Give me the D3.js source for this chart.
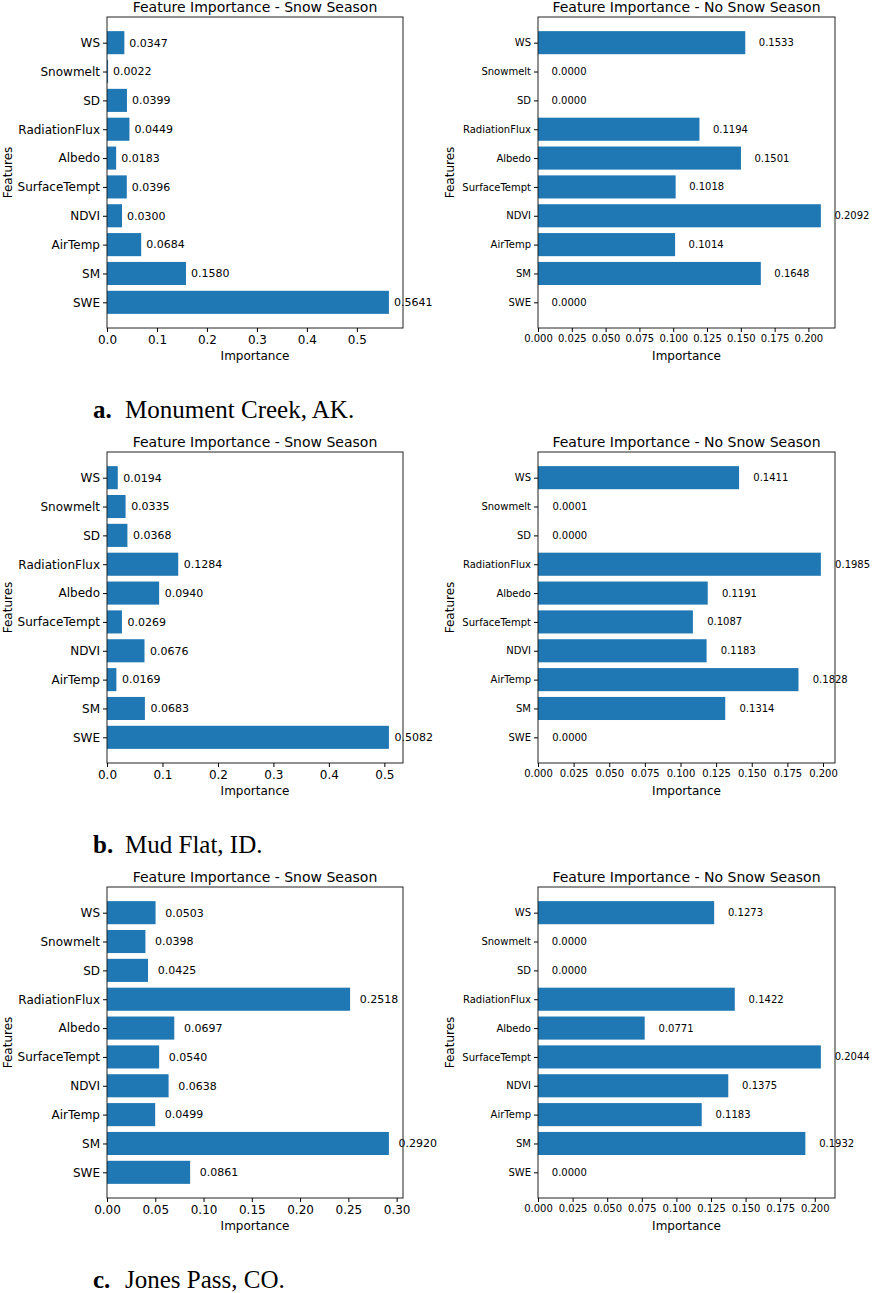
<!DOCTYPE html>
<html>
<head>
<meta charset="utf-8">
<script src="https://cdn.jsdelivr.net/npm/d3@7"></script>
<style>
  body { margin: 0; background: #fff; }
  text { font-family: "DejaVu Sans", sans-serif; fill: #000; }
  .caption { font-family: "Liberation Serif", "Times New Roman", serif; }
</style>
</head>
<body>
<div id="chart-area"></div>
<script>
// features, bottom to top (as matplotlib barh draws them)
var features = ["SWE", "SM", "AirTemp", "NDVI", "SurfaceTempt", "Albedo", "RadiationFlux", "SD", "Snowmelt", "WS"];

// importance values, same order as features
var monumentSnow   = [0.5641, 0.1580, 0.0684, 0.0300, 0.0396, 0.0183, 0.0449, 0.0399, 0.0022, 0.0347];
var monumentNoSnow = [0.0000, 0.1648, 0.1014, 0.2092, 0.1018, 0.1501, 0.1194, 0.0000, 0.0000, 0.1533];
var mudSnow        = [0.5082, 0.0683, 0.0169, 0.0676, 0.0269, 0.0940, 0.1284, 0.0368, 0.0335, 0.0194];
var mudNoSnow      = [0.0000, 0.1314, 0.1828, 0.1183, 0.1087, 0.1191, 0.1985, 0.0000, 0.0001, 0.1411];
var jonesSnow      = [0.0861, 0.2920, 0.0499, 0.0638, 0.0540, 0.0697, 0.2518, 0.0425, 0.0398, 0.0503];
var jonesNoSnow    = [0.0000, 0.1932, 0.1183, 0.1375, 0.2044, 0.0771, 0.1422, 0.0000, 0.0000, 0.1273];

// x tick values
var ticksSnowA  = [0, 0.1, 0.2, 0.3, 0.4, 0.5];
var ticksSnowC  = [0, 0.05, 0.10, 0.15, 0.20, 0.25, 0.30];
var ticksNoSnow = [0, 0.025, 0.05, 0.075, 0.1, 0.125, 0.15, 0.175, 0.2];

var captionLetters = ["a.", "b.", "c."];
var captionNames = ["Monument Creek, AK.", "Mud Flat, ID.", "Jones Pass, CO."];

var svg = d3.select("#chart-area").append("svg")
    .attr("width", 872)
    .attr("height", 1293);

var rowStep = 435,
    frameTop = 17,
    frameHeight = 311;

var panels = [
    {row: 0, left: 107, right: 403, title: "Feature Importance - Snow Season", values: monumentSnow, ticks: ticksSnowA, fmt: ".1f", tickSize: 12, valSize: 11, ylabelX: 8},
    {row: 0, left: 538, right: 835, title: "Feature Importance - No Snow Season", values: monumentNoSnow, ticks: ticksNoSnow, fmt: ".3f", tickSize: 10, valSize: 10, ylabelX: 450},
    {row: 1, left: 107, right: 403, title: "Feature Importance - Snow Season", values: mudSnow, ticks: ticksSnowA, fmt: ".1f", tickSize: 12, valSize: 11, ylabelX: 8},
    {row: 1, left: 538, right: 835, title: "Feature Importance - No Snow Season", values: mudNoSnow, ticks: ticksNoSnow, fmt: ".3f", tickSize: 10, valSize: 10, ylabelX: 450},
    {row: 2, left: 107, right: 403, title: "Feature Importance - Snow Season", values: jonesSnow, ticks: ticksSnowC, fmt: ".2f", tickSize: 12, valSize: 11, ylabelX: 8},
    {row: 2, left: 538, right: 835, title: "Feature Importance - No Snow Season", values: jonesNoSnow, ticks: ticksNoSnow, fmt: ".3f", tickSize: 10, valSize: 10, ylabelX: 450}
];

panels.forEach(drawPanel);

// captions under each row
captionNames.forEach(function(name, i) {
    var t = svg.append("text")
        .attr("class", "caption")
        .attr("x", 93)
        .attr("y", 418 + i * rowStep)
        .style("font-size", "25px");
    t.append("tspan").style("font-weight", "bold").text(captionLetters[i]);
    t.append("tspan").attr("x", 125).text(name);
});

function drawPanel(p) {
    var top = frameTop + p.row * rowStep,
        bottom = top + frameHeight,
        w = p.right - p.left;

    var g = svg.append("g")
        .attr("transform", "translate(" + p.left + "," + top + ")");

    var xMax = d3.max(p.values) * 1.05;
    var x = d3.scaleLinear().domain([0, xMax]).range([0, w]);
    // matplotlib default: bars of height 0.8, 5% margin
    var n = features.length;
    var pad = (n - 1 + 0.8) * 0.05;
    var y = d3.scaleLinear().domain([-0.4 - pad, n - 1 + 0.4 + pad]).range([frameHeight, 0]);
    var bh = y(0) - y(0.8);

    g.selectAll(".bar")
        .data(p.values)
        .enter().append("rect")
        .attr("class", "bar")
        .attr("x", x(0))
        .attr("y", function(d, i) { return y(i + 0.4); })
        .attr("width", function(d) { return x(d); })
        .attr("height", bh)
        .attr("fill", "#1f77b4");

    g.selectAll(".val")
        .data(p.values)
        .enter().append("text")
        .attr("class", "val")
        .attr("x", function(d) { return x(d + 0.01); })
        .attr("y", function(d, i) { return y(i); })
        .attr("dy", "0.35em")
        .style("font-size", p.valSize + "px")
        .text(function(d) { return d.toFixed(4); });

    // frame
    g.append("rect")
        .attr("width", w)
        .attr("height", frameHeight)
        .attr("fill", "none")
        .attr("stroke", "#222")
        .attr("stroke-width", 1);

    var xAxis = d3.axisBottom(x)
        .tickValues(p.ticks)
        .tickFormat(d3.format(p.fmt))
        .tickSize(4)
        .tickPadding(3);
    var gx = g.append("g")
        .attr("transform", "translate(0," + frameHeight + ")")
        .call(xAxis);
    gx.select(".domain").remove();
    gx.selectAll("text").style("font-size", p.tickSize + "px").style("font-family", "DejaVu Sans");

    var yAxis = d3.axisLeft(y)
        .tickValues(d3.range(n))
        .tickFormat(function(i) { return features[i]; })
        .tickSize(4)
        .tickPadding(3);
    var gy = g.append("g").call(yAxis);
    gy.select(".domain").remove();
    gy.selectAll("text").style("font-size", p.tickSize + "px").style("font-family", "DejaVu Sans");

    g.append("text")
        .attr("x", w / 2)
        .attr("y", -5)
        .attr("text-anchor", "middle")
        .style("font-size", "14px")
        .text(p.title);

    g.append("text")
        .attr("x", w / 2)
        .attr("y", frameHeight + 32)
        .attr("text-anchor", "middle")
        .style("font-size", "12px")
        .text("Importance");

    svg.append("text")
        .attr("transform", "translate(" + (p.ylabelX + 4) + "," + (top + frameHeight / 2) + ") rotate(-90)")
        .attr("text-anchor", "middle")
        .style("font-size", "12px")
        .text("Features");
}
</script>
</body>
</html>
